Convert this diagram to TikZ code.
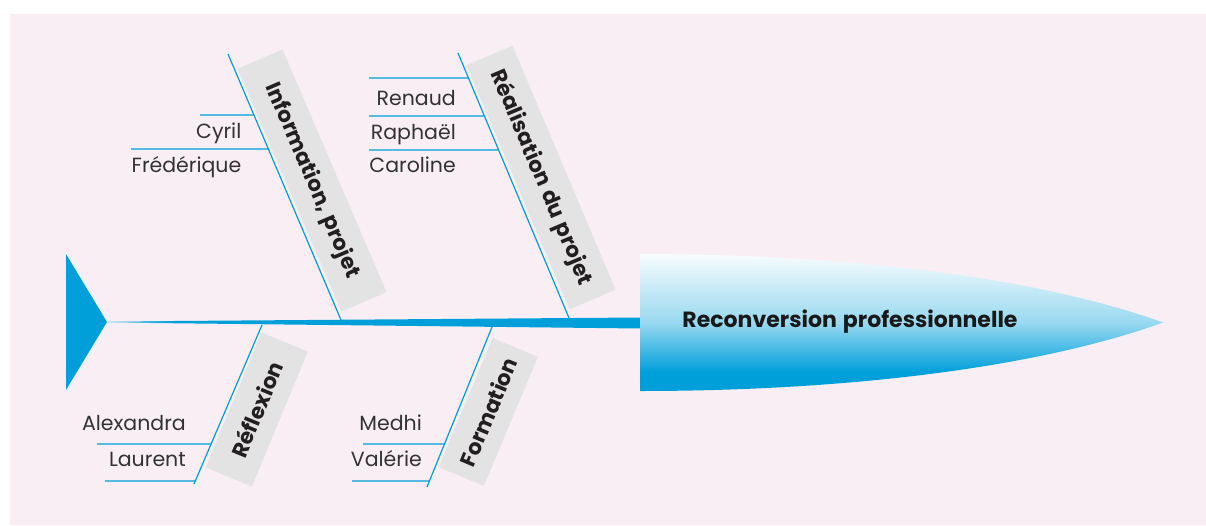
\documentclass[tikz,border=0pt]{standalone}
\usepackage{fontspec}
\setmainfont{Poppins}[WordSpace=1.3]
\definecolor{fishblue}{RGB}{0,159,218}
\definecolor{bgpink}{RGB}{248,238,244}
\definecolor{boxgray}{RGB}{227,227,227}
\definecolor{nametext}{RGB}{51,51,51}
\definecolor{cattext}{RGB}{35,31,32}
\colorlet{spinelight}{fishblue!30!white}
\colorlet{headmid}{fishblue!40!white}
\colorlet{headtop}{fishblue!3!white}
\pgfdeclareverticalshading{headshade}{100bp}{color(0bp)=(fishblue); color(25bp)=(fishblue); color(32bp)=(fishblue); color(50bp)=(headmid); color(75bp)=(headtop); color(100bp)=(headtop)}
\pgfdeclarehorizontalshading{spineshade}{100bp}{color(0bp)=(spinelight); color(25bp)=(spinelight); color(31bp)=(fishblue); color(100bp)=(fishblue)}
\tikzset{
  bone/.style={draw=fishblue, line width=1.2pt},
  catbox/.style={fill=boxgray, inner sep=0pt, text=cattext,
    font=\fontsize{21.5}{23}\selectfont\bfseries},
  person/.style={anchor=base east, inner sep=0pt, text=nametext,
    font=\fontsize{20.5}{22}\selectfont},
}
\begin{document}
\begin{tikzpicture}[x=1pt,y=-1pt]
\useasboundingbox (0,0) rectangle (1206,525);
\fill[white] (0,0) rectangle (1206,525);
\fill[bgpink] (10,14) rectangle (1206,525);

% tail
\fill[fishblue] (66,254) -- (107,322) -- (66,390) -- cycle;
\coordinate (tail) at (107,322);
% spine
\shade[shading=spineshade] (107,321.5) -- (641,317.5) -- (641,328.5) -- (107,322.5) -- cycle;
% head
\shade[shading=headshade] (640,254) .. controls (850,254) and (1040,278) .. (1163,322.5)
  .. controls (1040,367) and (850,391) .. (640,391) -- cycle;
\node[inner sep=0pt, text=black!90, font=\fontsize{22}{24}\selectfont\bfseries] (head) at (850,322) {Reconversion professionnelle};

% category boxes
\node[catbox, rotate=-66.8, minimum width=264pt, minimum height=49pt] (cat1) at (312,180.5) {Information, projet};
\node[catbox, rotate=-67.1, minimum width=265pt, minimum height=50pt] (cat2) at (541,177.5) {Réalisation du projet};
\node[catbox, rotate=67.5, minimum width=146pt, minimum height=50pt] (cat3) at (256.75,409.5) {Réflexion};
\node[catbox, rotate=67.3, minimum width=140pt, minimum height=49pt] (cat4) at (488.25,412) {Formation};

% bones
\coordinate (b1t) at (228,54);  \coordinate (b1b) at (341,320);
\coordinate (b2t) at (458,53);  \coordinate (b2b) at (569,318);
\coordinate (b3t) at (262,325); \coordinate (b3b) at (194,484);
\coordinate (b4t) at (492,327); \coordinate (b4b) at (427,487);
\draw[bone] (b1t) -- (b1b);
\draw[bone] (b2t) -- (b2b);
\draw[bone] (b3t) -- (b3b);
\draw[bone] (b4t) -- (b4b);

% sub-bones
\coordinate (s11) at (200,115); \coordinate (s12) at (131,149);
\draw[bone] (s11) -- (intersection of b1t--b1b and 0,115--1000,115);
\draw[bone] (s12) -- (intersection of b1t--b1b and 0,149--1000,149);
\coordinate (s21) at (369,78); \coordinate (s22) at (369,116); \coordinate (s23) at (369,150);
\draw[bone] (s21) -- (intersection of b2t--b2b and 0,78--1000,78);
\draw[bone] (s22) -- (intersection of b2t--b2b and 0,116--1000,116);
\draw[bone] (s23) -- (intersection of b2t--b2b and 0,150--1000,150);
\coordinate (s31) at (97,444); \coordinate (s32) at (105,481);
\draw[bone] (s31) -- (intersection of b3t--b3b and 0,444--1000,444);
\draw[bone] (s32) -- (intersection of b3t--b3b and 0,481--1000,481);
\coordinate (s41) at (363,444); \coordinate (s42) at (352,481);
\draw[bone] (s41) -- (intersection of b4t--b4b and 0,444--1000,444);
\draw[bone] (s42) -- (intersection of b4t--b4b and 0,481--1000,481);

% names
\node[person] (n11) at (241.5,138.5) {Cyril};
\node[person] (n12) at (241.5,172.5) {Frédérique};
\node[person] (n21) at (456,105.5) {Renaud};
\node[person] (n22) at (456,139) {Raphaël};
\node[person] (n23) at (456,172.5) {Caroline};
\node[person] (n31) at (186,430.5) {Alexandra};
\node[person] (n32) at (186,466.5) {Laurent};
\node[person] (n41) at (422,430.5) {Medhi};
\node[person] (n42) at (422,466.5) {Valérie};
\end{tikzpicture}
\end{document}
